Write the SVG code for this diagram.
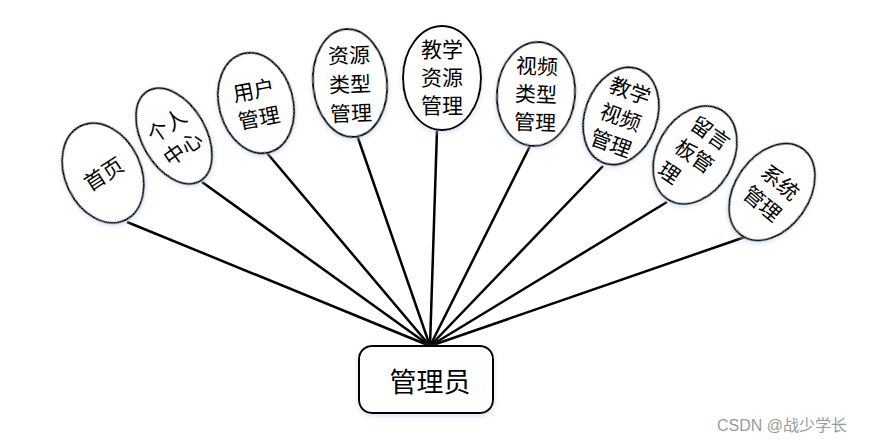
<svg xmlns="http://www.w3.org/2000/svg" width="885" height="442" viewBox="0 0 885 442">
<defs>
<filter id="glow" x="-20%" y="-20%" width="140%" height="140%">
<feDropShadow dx="0" dy="2" stdDeviation="2.5" flood-color="#b9cfea" flood-opacity="0.6"/>
</filter>
<style>
.e{fill:#fff;stroke:#000;stroke-width:2;filter:url(#glow)}
.t{font-family:"Noto Sans CJK SC","Noto Sans CJK TC",sans-serif;font-size:21px;fill:#000;text-anchor:middle;dominant-baseline:central}
.c line{stroke:#000;stroke-width:2.5}
.wm{font-family:"Liberation Sans","Noto Sans CJK SC",sans-serif;font-size:16px;fill:#9a9a9a}
</style>
</defs>
<rect width="885" height="442" fill="#fff"/>
<g class="c" id="connectors">
<line x1="127" y1="222" x2="430" y2="346"/>
<line x1="202" y1="182" x2="430" y2="346"/>
<line x1="267" y1="153" x2="430" y2="346"/>
<line x1="357" y1="135" x2="430" y2="346"/>
<line x1="437" y1="130" x2="430" y2="346"/>
<line x1="530" y1="146" x2="430" y2="346"/>
<line x1="603" y1="166" x2="430" y2="346"/>
<line x1="667" y1="202" x2="430" y2="346"/>
<line x1="745" y1="237" x2="430" y2="346"/>
</g>
<g id="n1" transform="translate(103,173) rotate(-25)">
<ellipse class="e" rx="38" ry="52"/>
<text class="t" transform="rotate(-8)">首页</text>
</g>
<g id="n2" transform="translate(174,136) rotate(-30)">
<ellipse class="e" rx="32" ry="52"/>
<text class="t" transform="rotate(-5)"><tspan x="0" y="-14">个人</tspan><tspan x="0" y="14">中心</tspan></text>
</g>
<g id="n3" transform="translate(256,103) rotate(-15)">
<ellipse class="e" rx="37" ry="51"/>
<text class="t" transform="rotate(4)"><tspan x="0" y="-14">用户</tspan><tspan x="0" y="14">管理</tspan></text>
</g>
<g id="n4" transform="translate(350,83) rotate(-5)">
<ellipse class="e" rx="37" ry="54"/>
<text class="t" transform="rotate(3)"><tspan x="0" y="-29">资源</tspan><tspan x="0" y="0">类型</tspan><tspan x="0" y="29">管理</tspan></text>
</g>
<g id="n5" transform="translate(442,78)">
<ellipse class="e" rx="39" ry="52"/>
<text class="t"><tspan x="0" y="-30">教学</tspan><tspan x="0" y="-2">资源</tspan><tspan x="0" y="26">管理</tspan></text>
</g>
<g id="n6" transform="translate(536,94) rotate(5)">
<ellipse class="e" rx="39" ry="52"/>
<text class="t" transform="rotate(-3)"><tspan x="0" y="-29">视频</tspan><tspan x="0" y="-1">类型</tspan><tspan x="0" y="27">管理</tspan></text>
</g>
<g id="n7" transform="translate(621,116) rotate(20)">
<ellipse class="e" rx="36" ry="50"/>
<text class="t"><tspan x="0" y="-28">教学</tspan><tspan x="0" y="0">视频</tspan><tspan x="0" y="28">管理</tspan></text>
</g>
<g id="n8" transform="translate(695,155) rotate(30)">
<ellipse class="e" rx="38" ry="52"/>
<text class="t" transform="rotate(5)"><tspan x="0" y="-28">留言</tspan><tspan x="0" y="0">板管</tspan><tspan x="-11" y="28">理</tspan></text>
</g>
<g id="n9" transform="translate(772,192) rotate(35)">
<ellipse class="e" rx="37" ry="53"/>
<text class="t" transform="rotate(5)"><tspan x="0" y="-14">系统</tspan><tspan x="0" y="14">管理</tspan></text>
</g>
<g id="admin">
<rect class="e" x="359" y="346" width="134" height="67" rx="13"/>
<text class="t" x="430" y="380" style="font-size:27px">管理员</text>
</g>
<text class="wm" x="717" y="431">CSDN @战少学长</text>
</svg>
